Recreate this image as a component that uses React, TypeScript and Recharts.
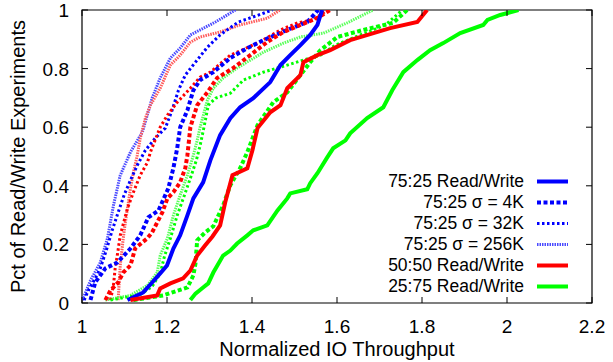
import React from "react";
import { LineChart, Line, XAxis, YAxis, ReferenceArea, Legend } from "recharts";

const blueSolid: [number, number][] = [
  [1.107, 0.01], [1.144, 0.036], [1.165, 0.07], [1.184, 0.101], [1.2, 0.128], [1.215, 0.186],
  [1.231, 0.231], [1.248, 0.299], [1.262, 0.357], [1.285, 0.412], [1.302, 0.487], [1.325, 0.573],
  [1.349, 0.631], [1.372, 0.668], [1.403, 0.699], [1.443, 0.754], [1.467, 0.812], [1.49, 0.846],
  [1.514, 0.88], [1.537, 0.915], [1.554, 0.949], [1.565, 1],
];
const blue4k: [number, number][] = [
  [1.02, 0.01], [1.031, 0.07], [1.055, 0.118], [1.083, 0.138], [1.114, 0.186], [1.137, 0.231],
  [1.156, 0.292], [1.18, 0.316], [1.203, 0.391], [1.215, 0.46], [1.224, 0.528], [1.231, 0.6],
  [1.248, 0.658], [1.262, 0.726], [1.278, 0.761], [1.309, 0.788], [1.349, 0.836], [1.389, 0.87],
  [1.427, 0.897], [1.483, 0.932], [1.53, 0.959], [1.556, 1],
];
const blue32k: [number, number][] = [
  [1.005, 0.01], [1.015, 0.043], [1.031, 0.084], [1.043, 0.118], [1.057, 0.179], [1.071, 0.248],
  [1.085, 0.309], [1.099, 0.368], [1.114, 0.419], [1.13, 0.47], [1.149, 0.521], [1.172, 0.562],
  [1.196, 0.597], [1.212, 0.658], [1.227, 0.726], [1.243, 0.778], [1.267, 0.822], [1.295, 0.873],
  [1.325, 0.915], [1.368, 0.959], [1.408, 0.979], [1.448, 1],
];
const blue256k: [number, number][] = [
  [1.001, 0.01], [1.02, 0.077], [1.043, 0.138], [1.06, 0.221], [1.074, 0.333], [1.09, 0.436],
  [1.114, 0.515], [1.142, 0.583], [1.165, 0.699], [1.184, 0.768], [1.208, 0.836], [1.231, 0.87],
  [1.255, 0.915], [1.278, 0.932], [1.314, 0.959], [1.361, 1],
];
const redSolid: [number, number][] = [
  [1.114, 0.01], [1.177, 0.026], [1.184, 0.05], [1.208, 0.067], [1.238, 0.084], [1.255, 0.111],
  [1.271, 0.162], [1.29, 0.197], [1.307, 0.227], [1.325, 0.265], [1.337, 0.344], [1.354, 0.436],
  [1.389, 0.46], [1.401, 0.521], [1.413, 0.597], [1.443, 0.651], [1.467, 0.675], [1.483, 0.733],
  [1.514, 0.778], [1.521, 0.822], [1.554, 0.846], [1.584, 0.863], [1.631, 0.897], [1.725, 0.938],
  [1.789, 0.959], [1.812, 1],
];
const red4k: [number, number][] = [
  [1.055, 0.01], [1.067, 0.043], [1.085, 0.07], [1.097, 0.104], [1.114, 0.128], [1.125, 0.186],
  [1.142, 0.207], [1.154, 0.221], [1.165, 0.241], [1.177, 0.275], [1.189, 0.309], [1.201, 0.357],
  [1.215, 0.378], [1.231, 0.412], [1.243, 0.46], [1.248, 0.504], [1.255, 0.6], [1.271, 0.675],
  [1.295, 0.719], [1.318, 0.768], [1.356, 0.802], [1.396, 0.846], [1.436, 0.891], [1.474, 0.925],
  [1.514, 0.949], [1.554, 0.973], [1.584, 1],
];
const red32k: [number, number][] = [
  [1.067, 0.01], [1.074, 0.06], [1.078, 0.118], [1.083, 0.162], [1.09, 0.231], [1.107, 0.323],
  [1.121, 0.378], [1.137, 0.436], [1.154, 0.48], [1.161, 0.515], [1.184, 0.6], [1.201, 0.641],
  [1.224, 0.685], [1.255, 0.733], [1.278, 0.771], [1.302, 0.788], [1.349, 0.846], [1.413, 0.887],
  [1.467, 0.932], [1.507, 0.956], [1.544, 0.966], [1.577, 1],
];
const red256k: [number, number][] = [
  [1.085, 0.01], [1.09, 0.128], [1.097, 0.22], [1.102, 0.275], [1.114, 0.39], [1.121, 0.446],
  [1.13, 0.504], [1.137, 0.562], [1.149, 0.63], [1.161, 0.675], [1.184, 0.733], [1.208, 0.812],
  [1.231, 0.846], [1.255, 0.89], [1.278, 0.908], [1.325, 0.925], [1.372, 0.949], [1.436, 0.972],
  [1.466, 1],
];
const greenSolid: [number, number][] = [
  [1.255, 0.01], [1.267, 0.032], [1.285, 0.053], [1.297, 0.067], [1.309, 0.104], [1.332, 0.162],
  [1.349, 0.179], [1.365, 0.203], [1.389, 0.231], [1.403, 0.248], [1.436, 0.265], [1.46, 0.316],
  [1.483, 0.357], [1.49, 0.374], [1.53, 0.388], [1.537, 0.409], [1.554, 0.443], [1.577, 0.497],
  [1.591, 0.528], [1.62, 0.555], [1.631, 0.579], [1.671, 0.631], [1.709, 0.668], [1.73, 0.726],
  [1.756, 0.788], [1.789, 0.829], [1.819, 0.863], [1.85, 0.887], [1.89, 0.921], [1.944, 0.949],
  [1.954, 0.966], [1.984, 0.983], [2.027, 1],
];
const green4k: [number, number][] = [
  [1.121, 0.01], [1.191, 0.026], [1.248, 0.053], [1.262, 0.094], [1.267, 0.135], [1.271, 0.214],
  [1.29, 0.241], [1.309, 0.262], [1.332, 0.333], [1.349, 0.402], [1.372, 0.46], [1.389, 0.515],
  [1.413, 0.607], [1.45, 0.685], [1.483, 0.719], [1.514, 0.778], [1.537, 0.822], [1.561, 0.863],
  [1.601, 0.908], [1.662, 0.932], [1.732, 0.956], [1.765, 1],
];
const green32k: [number, number][] = [
  [1.067, 0.01], [1.137, 0.029], [1.165, 0.056], [1.184, 0.101], [1.194, 0.159], [1.208, 0.221],
  [1.224, 0.299], [1.241, 0.368], [1.255, 0.426], [1.269, 0.487], [1.278, 0.538], [1.288, 0.607],
  [1.297, 0.675], [1.314, 0.699], [1.349, 0.716], [1.38, 0.761], [1.427, 0.788], [1.467, 0.805],
  [1.521, 0.829], [1.561, 0.846], [1.596, 0.88], [1.655, 0.915], [1.714, 0.949], [1.754, 1],
];
const green256k: [number, number][] = [
  [1.055, 0.01], [1.114, 0.026], [1.154, 0.06], [1.177, 0.104], [1.184, 0.162], [1.201, 0.221],
  [1.215, 0.299], [1.231, 0.368], [1.248, 0.436], [1.262, 0.504], [1.271, 0.555], [1.278, 0.6],
  [1.295, 0.692], [1.309, 0.733], [1.332, 0.768], [1.365, 0.802], [1.396, 0.829], [1.427, 0.856],
  [1.474, 0.887], [1.514, 0.908], [1.568, 0.921], [1.624, 0.956], [1.685, 1],
];

const xTicks = [1, 1.2, 1.4, 1.6, 1.8, 2, 2.2];
const yTicks = [0, 0.2, 0.4, 0.6, 0.8, 1];

const FONT = '"Liberation Sans", Arial, Helvetica, sans-serif';
const BLUE = "#0000ff";
const RED = "#ff0000";
const GREEN = "#00ff00";
// the dense 256K hatch reads a little lighter in the original
const LIGHT_BLUE = "#4a4aff";
const LIGHT_RED = "#ff5a5a";
const LIGHT_GREEN = "#5aff5a";

// chart frame
const W = 613;
const H = 362;
const TOP = 10;
const LEFT = 82;
const RIGHT = 592;
const BOTTOM = 303;

// gnuplot-like line types
const solid = { strokeWidth: 4 };
const dash4k = { strokeWidth: 4, strokeDasharray: "4 2.5" };
const dot32k = { strokeWidth: 3, strokeDasharray: "2.5 2.5" };
const dense256k = { strokeWidth: 3, strokeDasharray: "1.5 1" };

const series = [
  { name: "blue256k", data: blue256k, color: LIGHT_BLUE, style: dense256k },
  { name: "red256k", data: red256k, color: LIGHT_RED, style: dense256k },
  { name: "green256k", data: green256k, color: LIGHT_GREEN, style: dense256k },
  { name: "blue32k", data: blue32k, color: BLUE, style: dot32k },
  { name: "red32k", data: red32k, color: RED, style: dot32k },
  { name: "green32k", data: green32k, color: GREEN, style: dot32k },
  { name: "blue4k", data: blue4k, color: BLUE, style: dash4k },
  { name: "red4k", data: red4k, color: RED, style: dash4k },
  { name: "green4k", data: green4k, color: GREEN, style: dash4k },
  { name: "blueSolid", data: blueSolid, color: BLUE, style: solid },
  { name: "redSolid", data: redSolid, color: RED, style: solid },
  { name: "greenSolid", data: greenSolid, color: GREEN, style: solid },
];

const legendRows = [
  { label: "75:25 Read/Write", color: BLUE, style: solid },
  { label: "75:25 σ = 4K", color: BLUE, style: dash4k },
  { label: "75:25 σ = 32K", color: BLUE, style: dot32k },
  { label: "75:25 σ = 256K", color: LIGHT_BLUE, style: dense256k },
  { label: "50:50 Read/Write", color: RED, style: solid },
  { label: "25:75 Read/Write", color: GREEN, style: solid },
];

const toPoints = (pts: [number, number][]) => pts.map(([x, y]) => ({ x, y }));

// ticks point inward and are mirrored on the opposite border
const XTick = (props: any) => {
  const { x, y, payload } = props;
  return (
    <g>
      <line x1={x} y1={y} x2={x} y2={y - 6} stroke="#000" />
      <line x1={x} y1={TOP} x2={x} y2={TOP + 6} stroke="#000" />
      <text x={x} y={y + 30} textAnchor="middle" fontFamily={FONT} fontSize={19} fill="#000">
        {String(payload.value)}
      </text>
    </g>
  );
};

const YTick = (props: any) => {
  const { x, y, payload } = props;
  return (
    <g>
      <line x1={x} y1={y} x2={x + 6} y2={y} stroke="#000" />
      <line x1={RIGHT} y1={y} x2={RIGHT - 6} y2={y} stroke="#000" />
      <text x={x - 13} y={y + 7} textAnchor="end" fontFamily={FONT} fontSize={19} fill="#000">
        {String(payload.value)}
      </text>
    </g>
  );
};

const XLabel = (props: any) => {
  const vb = props.viewBox || { x: LEFT, y: BOTTOM, width: RIGHT - LEFT };
  return (
    <text x={vb.x + vb.width / 2} y={vb.y + 53} textAnchor="middle" fontFamily={FONT} fontSize={20} fill="#000">
      Normalized IO Throughput
    </text>
  );
};

const YLabel = () => {
  const cx = 25;
  const cy = (TOP + BOTTOM) / 2;
  return (
    <text x={cx} y={cy} transform={`rotate(-90, ${cx}, ${cy})`} textAnchor="middle" fontFamily={FONT} fontSize={20} fill="#000">
      Pct of Read/Write Experiments
    </text>
  );
};

const KeyBox = () => (
  <div style={{ fontFamily: FONT, fontSize: 17.5, color: "#000" }}>
    {legendRows.map((r) => (
      <div key={r.label} style={{ display: "flex", alignItems: "center", height: 21 }}>
        <span style={{ width: 154, textAlign: "right", whiteSpace: "nowrap", lineHeight: "21px" }}>{r.label}</span>
        <svg width={46} height={21}>
          <line x1={13} x2={44} y1={10.5} y2={10.5} stroke={r.color} {...r.style} />
        </svg>
      </div>
    ))}
  </div>
);

export default function App() {
  return (
    <div style={{ position: "absolute", left: 0, top: 0, width: W, height: H, background: "#fff" }}>
      <LineChart width={W} height={H} margin={{ top: TOP, right: W - RIGHT, bottom: 0, left: 0 }}>
        <XAxis
          type="number"
          dataKey="x"
          domain={[1, 2.2]}
          ticks={xTicks}
          interval={0}
          allowDataOverflow
          height={H - BOTTOM}
          tickSize={0}
          tickMargin={0}
          tickLine={false}
          axisLine={false}
          tick={<XTick />}
          label={<XLabel />}
        />
        <YAxis
          type="number"
          domain={[0, 1]}
          ticks={yTicks}
          interval={0}
          allowDataOverflow
          width={LEFT}
          tickSize={0}
          tickMargin={0}
          tickLine={false}
          axisLine={false}
          tick={<YTick />}
          label={<YLabel />}
        />
        <ReferenceArea x1={1} x2={2.2} y1={0} y2={1} fill="none" stroke="#000" strokeWidth={1.2} ifOverflow="visible" />
        {series.map((s) => (
          <Line
            key={s.name}
            data={toPoints(s.data)}
            dataKey="y"
            type="linear"
            stroke={s.color}
            {...s.style}
            dot={false}
            activeDot={false}
            legendType="none"
            isAnimationActive={false}
          />
        ))}
        <Legend
          layout="vertical"
          align="center"
          verticalAlign="middle"
          content={<KeyBox />}
          wrapperStyle={{ left: 370, top: 171, width: 210, height: 126 }}
        />
      </LineChart>
    </div>
  );
}
